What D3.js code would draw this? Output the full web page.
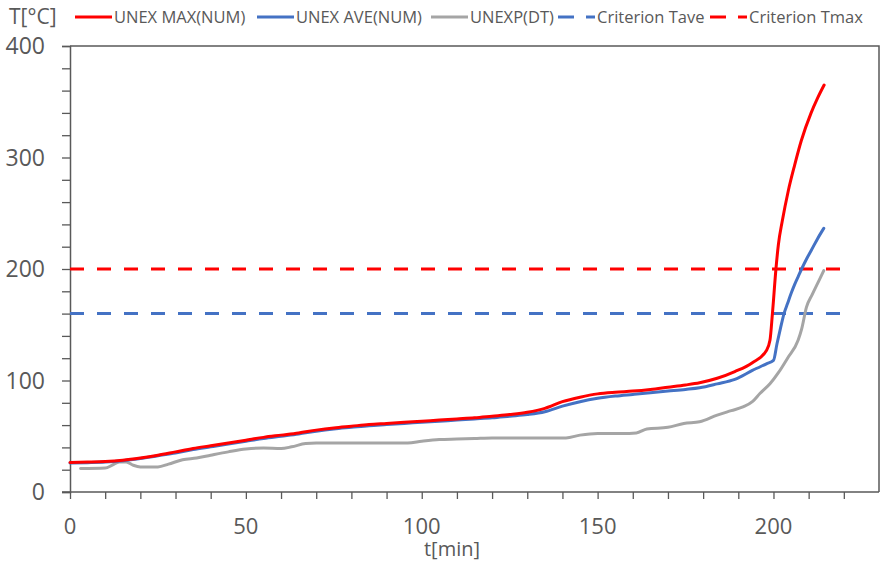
<!DOCTYPE html>
<html>
<head>
<meta charset="utf-8">
<script src="https://cdn.jsdelivr.net/npm/d3@7"></script>
<style>
  html, body { margin: 0; padding: 0; background: #fff; }
  svg { display: block; }
</style>
</head>
<body>
<svg id="chart" width="880" height="565"></svg>
<script>
// Temperature histories, time in minutes, temperature in °C
const maxNumT = [0,5,10,15,20,25,30,35,40,45,50,55,60,65,70,75,80,85,90,95,100,105,110,115,120,125,130,135,140,145,150,155,160,165,170,175,179,184,189,194,198,199,199.7,200.7,201.4,202.5,204.2,206,207.9,210.7,212.5,214.4];
const maxNumV = [26.5,26.8,27.3,28.5,30.5,33,36,39,41.5,44,46.5,49,51,53,55.5,57.5,59,60.5,61.5,62.5,63.5,64.5,65.5,66.5,68,69.5,71.5,75,81,85,88,89.5,90.5,92,94,96,98,102,108,116,127,136,160,200,222,243,270,293,315,340,353,365];

const aveNumT = [0,5,10,15,20,25,30,35,40,45,50,55,60,65,70,75,80,85,90,95,100,105,110,115,120,125,130,135,140,145,150,155,160,165,170,175,179,184,189,194,198,200,201,202,203,204,205,206,207,208,209.4,210.8,212.5,214.3];
const aveNumV = [26,26.3,26.8,28,30,32.5,35,38,40.5,43,45.5,48,50,52,54.5,56.5,58,59.5,60.5,61.5,62.5,63.5,64.5,65.5,66.5,68,69.5,72,77,81,84,86,87.5,89,90.5,92,93.5,97,101,109,115,118,133,147,160,169,178,186,193,200,209,217,227,236.5];

const expDtT = [3,10,12,14,16,18,20,25,28,32,36,40,45,50,55,60,63,67,70,80,90,96,100,105,110,115,120,130,141,145,150,157,161,164,170,174.5,179,184,188,191.5,194,196.2,199,201.4,204,207,208,209.4,211,213,214.3];
const expDtV = [21,21.5,24,27,27,24,22.5,22.5,25,29,30.5,33,36,38.5,39.5,39,40.5,43.5,44,44,44,44,45.5,47,47.5,48,48.5,48.5,48.5,51,52.5,52.5,53,56.5,58,61.5,63,69,73,76.5,81,88.5,97,107,120,136,146,166,177,190,198.5];

// Criterion levels (horizontal reference lines)
const criterionT = [0, 220];
const criterionTave = [160, 160];
const criterionTmax = [200, 200];

const xTickLabels = [0, 50, 100, 150, 200];
const yTickLabels = [0, 100, 200, 300, 400];

const svg = d3.select("#chart");
const plotLeft = 70, plotRight = 879, plotTop = 46, plotBottom = 492;

const x = d3.scaleLinear().domain([0, 230]).range([plotLeft, plotRight]);
const y = d3.scaleLinear().domain([0, 400]).range([plotBottom, plotTop]);

const axisColor = "#595959";
const textColor = "#595959";
const font = "'Open Sans', 'DejaVu Sans', sans-serif";

// Frame on top and right
svg.append("path")
  .attr("d", `M${plotLeft},${plotTop}H${plotRight}V${plotBottom}`)
  .attr("fill", "none").attr("stroke", axisColor).attr("stroke-width", 1.5);

// Y axis: minor ticks every 20, labels every 100
const yAxis = svg.append("g").attr("transform", `translate(${plotLeft},0)`)
  .call(d3.axisLeft(y).tickValues(d3.range(0, 401, 20)).tickSize(8).tickFormat(""));
yAxis.select(".domain").attr("stroke", axisColor).attr("stroke-width", 1.5);
yAxis.selectAll(".tick line").attr("stroke", axisColor).attr("stroke-width", 1.3);
svg.append("g").selectAll("text").data(yTickLabels).join("text")
  .attr("x", 45).attr("y", d => y(d)).attr("dy", "0.36em")
  .attr("text-anchor", "end")
  .attr("font-family", font)
  .attr("font-size", 23).attr("fill", textColor)
  .text(d => d);

// X axis: minor ticks every 10, labels every 50
const xAxis = svg.append("g").attr("transform", `translate(0,${plotBottom})`)
  .call(d3.axisBottom(x).tickValues(d3.range(0, 221, 10)).tickSize(7).tickFormat(""));
xAxis.select(".domain").remove();
xAxis.selectAll(".tick line").attr("stroke", axisColor).attr("stroke-width", 1.3);
svg.append("line").attr("x1", plotLeft - 8).attr("x2", plotRight).attr("y1", plotBottom).attr("y2", plotBottom)
  .attr("stroke", axisColor).attr("stroke-width", 1.5);
svg.append("g").selectAll("text").data(xTickLabels).join("text")
  .attr("x", d => x(d)).attr("y", 526).attr("dy", "0.36em")
  .attr("text-anchor", "middle")
  .attr("font-family", font)
  .attr("font-size", 22).attr("fill", textColor)
  .text(d => d);

svg.append("text").attr("x", 452).attr("y", 549).attr("dy", "0.35em")
  .attr("text-anchor", "middle")
  .attr("font-family", font)
  .attr("font-size", 20).attr("fill", textColor).text("t[min]");

svg.append("text").attr("x", 9).attr("y", 16).attr("dy", "0.36em")
  .attr("font-family", font)
  .attr("font-size", 21).attr("fill", textColor).text("T[°C]");

// Series
const curveLine = d3.line().x(d => x(d[0])).y(d => y(d[1])).curve(d3.curveMonotoneX);
const straightLine = d3.line().x(d => x(d[0])).y(d => y(d[1]));
const zip = (a, b) => a.map((t, i) => [t, b[i]]);

const series = [
  { name: "UNEX MAX(NUM)", t: maxNumT, v: maxNumV, color: "#FF0000", dash: null },
  { name: "UNEX AVE(NUM)", t: aveNumT, v: aveNumV, color: "#4472C4", dash: null },
  { name: "UNEXP(DT)", t: expDtT, v: expDtV, color: "#A5A5A5", dash: null },
  { name: "Criterion Tave", t: criterionT, v: criterionTave, color: "#4472C4", dash: "14,13" },
  { name: "Criterion Tmax", t: criterionT, v: criterionTmax, color: "#FF0000", dash: "14,13" }
];

// Draw order: dashed criteria first, then grey, blue, red on top
const drawOrder = [3, 4, 2, 1, 0];
drawOrder.forEach(i => {
  const s = series[i];
  svg.append("path")
    .datum(zip(s.t, s.v))
    .attr("d", s.dash ? straightLine : curveLine)
    .attr("fill", "none")
    .attr("stroke", s.color)
    .attr("stroke-width", 3)
    .attr("stroke-linejoin", "round")
    .attr("stroke-linecap", s.dash ? "butt" : "round")
    .attr("stroke-dasharray", s.dash);
});

// Legend
const legendX = [75, 257, 431, 558, 710];
const legend = svg.append("g");
series.forEach((s, i) => {
  const g = legend.append("g").attr("transform", `translate(${legendX[i]},17)`);
  if (s.dash) {
    g.append("line").attr("x1", 0).attr("x2", 16).attr("y1", 0).attr("y2", 0)
      .attr("stroke", s.color).attr("stroke-width", 3);
    g.append("line").attr("x1", 28).attr("x2", 37).attr("y1", 0).attr("y2", 0)
      .attr("stroke", s.color).attr("stroke-width", 3);
  } else {
    g.append("line").attr("x1", 0).attr("x2", 37).attr("y1", 0).attr("y2", 0)
      .attr("stroke", s.color).attr("stroke-width", 3);
  }
  g.append("text").attr("x", 39).attr("y", 0).attr("dy", "0.36em")
    .attr("font-family", font)
    .attr("font-size", 16.5).attr("fill", textColor).text(s.name);
});
</script>
</body>
</html>
